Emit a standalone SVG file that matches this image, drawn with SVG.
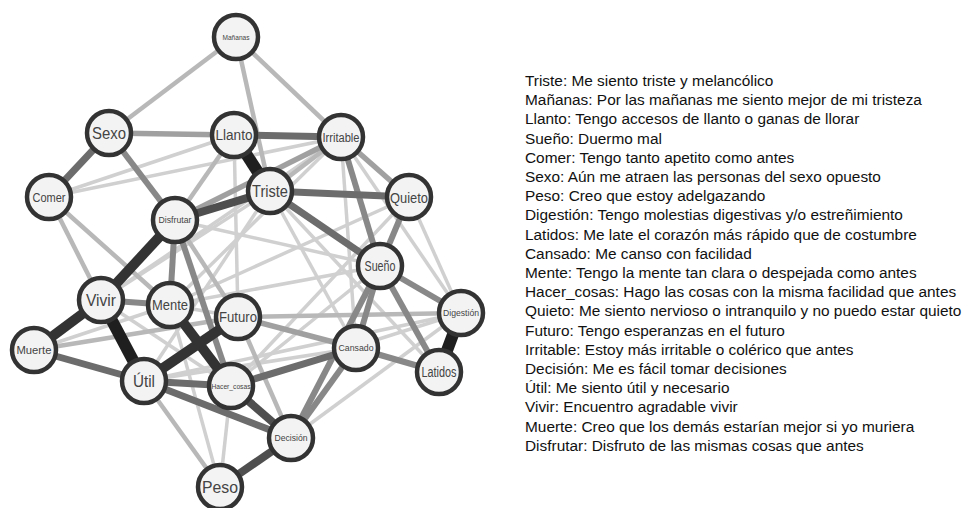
<svg xmlns="http://www.w3.org/2000/svg" width="964" height="508" viewBox="0 0 964 508">
<style>
.bg{fill:#ffffff}
line{stroke-linecap:butt}
.e1{stroke:#1f1f1f;stroke-width:12}
.e2{stroke:#333333;stroke-width:10}
.e3{stroke:#4f4f4f;stroke-width:8}
.e4{stroke:#6c6c6c;stroke-width:7}
.e5{stroke:#888888;stroke-width:6}
.e6{stroke:#a0a0a0;stroke-width:5.5}
.e7{stroke:#b8b8b8;stroke-width:4.5}
.e8{stroke:#d0d0d0;stroke-width:3.5}
.node circle{fill:#f3f3f3;stroke:#333333;stroke-width:4.5}
.node text{font-family:"Liberation Sans",Arial,sans-serif;fill:#444444;text-anchor:middle}
.legend text{font-family:"Liberation Sans",Arial,sans-serif;font-size:15.4px;fill:#111111}
</style>
<rect class="bg" x="0" y="0" width="964" height="508"/>
<g id="connectors">
<line class="e8" x1="341" y1="137" x2="101" y2="300"/>
<line class="e8" x1="341" y1="137" x2="170" y2="305"/>
<line class="e8" x1="341" y1="137" x2="356" y2="348"/>
<line class="e8" x1="341" y1="137" x2="461" y2="313"/>
<line class="e8" x1="409" y1="197" x2="461" y2="313"/>
<line class="e8" x1="409" y1="197" x2="170" y2="305"/>
<line class="e8" x1="409" y1="197" x2="231" y2="386"/>
<line class="e8" x1="49" y1="197" x2="341" y2="137"/>
<line class="e8" x1="49" y1="197" x2="234" y2="135"/>
<line class="e8" x1="234" y1="135" x2="238" y2="317"/>
<line class="e8" x1="175" y1="220" x2="380" y2="266"/>
<line class="e8" x1="270" y1="191" x2="101" y2="300"/>
<line class="e8" x1="270" y1="191" x2="144" y2="381"/>
<line class="e8" x1="270" y1="191" x2="356" y2="348"/>
<line class="e8" x1="270" y1="191" x2="439" y2="372"/>
<line class="e8" x1="34" y1="350" x2="170" y2="305"/>
<line class="e8" x1="101" y1="300" x2="231" y2="386"/>
<line class="e8" x1="170" y1="305" x2="220" y2="487"/>
<line class="e8" x1="231" y1="386" x2="220" y2="487"/>
<line class="e8" x1="291" y1="438" x2="461" y2="313"/>
<line class="e8" x1="144" y1="381" x2="356" y2="348"/>
<line class="e8" x1="144" y1="381" x2="461" y2="313"/>
<line class="e8" x1="231" y1="386" x2="461" y2="313"/>
<line class="e8" x1="380" y1="266" x2="170" y2="305"/>
<line class="e8" x1="380" y1="266" x2="231" y2="386"/>
<line class="e8" x1="170" y1="305" x2="238" y2="317"/>
<line class="e7" x1="236" y1="37" x2="109" y2="133"/>
<line class="e7" x1="236" y1="37" x2="341" y2="137"/>
<line class="e7" x1="236" y1="37" x2="270" y2="191"/>
<line class="e7" x1="238" y1="317" x2="461" y2="313"/>
<line class="e7" x1="144" y1="381" x2="220" y2="487"/>
<line class="e7" x1="238" y1="317" x2="291" y2="438"/>
<line class="e7" x1="49" y1="197" x2="101" y2="300"/>
<line class="e7" x1="49" y1="197" x2="170" y2="305"/>
<line class="e7" x1="234" y1="135" x2="175" y2="220"/>
<line class="e7" x1="175" y1="220" x2="238" y2="317"/>
<line class="e7" x1="341" y1="137" x2="270" y2="191"/>
<line class="e7" x1="34" y1="350" x2="238" y2="317"/>
<line class="e6" x1="109" y1="133" x2="234" y2="135"/>
<line class="e6" x1="341" y1="137" x2="409" y2="197"/>
<line class="e6" x1="238" y1="317" x2="356" y2="348"/>
<line class="e6" x1="341" y1="137" x2="175" y2="220"/>
<line class="e5" x1="101" y1="300" x2="170" y2="305"/>
<line class="e5" x1="109" y1="133" x2="175" y2="220"/>
<line class="e5" x1="409" y1="197" x2="380" y2="266"/>
<line class="e5" x1="341" y1="137" x2="380" y2="266"/>
<line class="e5" x1="380" y1="266" x2="461" y2="313"/>
<line class="e5" x1="380" y1="266" x2="439" y2="372"/>
<line class="e5" x1="380" y1="266" x2="356" y2="348"/>
<line class="e5" x1="356" y1="348" x2="439" y2="372"/>
<line class="e5" x1="291" y1="438" x2="356" y2="348"/>
<line class="e5" x1="291" y1="438" x2="380" y2="266"/>
<line class="e5" x1="175" y1="220" x2="170" y2="305"/>
<line class="e5" x1="175" y1="220" x2="231" y2="386"/>
<line class="e4" x1="234" y1="135" x2="341" y2="137"/>
<line class="e4" x1="270" y1="191" x2="380" y2="266"/>
<line class="e4" x1="270" y1="191" x2="409" y2="197"/>
<line class="e4" x1="231" y1="386" x2="356" y2="348"/>
<line class="e4" x1="34" y1="350" x2="144" y2="381"/>
<line class="e4" x1="144" y1="381" x2="231" y2="386"/>
<line class="e4" x1="144" y1="381" x2="291" y2="438"/>
<line class="e4" x1="109" y1="133" x2="49" y2="197"/>
<line class="e3" x1="270" y1="191" x2="175" y2="220"/>
<line class="e3" x1="291" y1="438" x2="220" y2="487"/>
<line class="e3" x1="231" y1="386" x2="291" y2="438"/>
<line class="e2" x1="101" y1="300" x2="34" y2="350"/>
<line class="e2" x1="144" y1="381" x2="238" y2="317"/>
<line class="e2" x1="170" y1="305" x2="231" y2="386"/>
<line class="e2" x1="101" y1="300" x2="175" y2="220"/>
<line class="e1" x1="234" y1="135" x2="270" y2="191"/>
<line class="e1" x1="101" y1="300" x2="144" y2="381"/>
<line class="e1" x1="461" y1="313" x2="439" y2="372"/>
</g>
<g id="node-Mananas" class="node"><circle cx="236" cy="37" r="22"/><text x="236" y="39.5" font-size="7" textLength="27" lengthAdjust="spacingAndGlyphs">Mañanas</text></g>
<g id="node-Sexo" class="node"><circle cx="109" cy="133" r="22"/><text x="109" y="139" font-size="17" textLength="34" lengthAdjust="spacingAndGlyphs">Sexo</text></g>
<g id="node-Llanto" class="node"><circle cx="234" cy="135" r="22"/><text x="234" y="140" font-size="14" textLength="37" lengthAdjust="spacingAndGlyphs">Llanto</text></g>
<g id="node-Irritable" class="node"><circle cx="341" cy="137" r="22"/><text x="341" y="141.5" font-size="12.5" textLength="37" lengthAdjust="spacingAndGlyphs">Irritable</text></g>
<g id="node-Comer" class="node"><circle cx="49" cy="197" r="22"/><text x="49" y="201.5" font-size="12.5" textLength="33" lengthAdjust="spacingAndGlyphs">Comer</text></g>
<g id="node-Disfrutar" class="node"><circle cx="175" cy="220" r="22"/><text x="175" y="223" font-size="9" textLength="33" lengthAdjust="spacingAndGlyphs">Disfrutar</text></g>
<g id="node-Triste" class="node"><circle cx="270" cy="191" r="22"/><text x="270" y="197" font-size="17" textLength="36" lengthAdjust="spacingAndGlyphs">Triste</text></g>
<g id="node-Quieto" class="node"><circle cx="409" cy="197" r="22"/><text x="409" y="202.5" font-size="15" textLength="38" lengthAdjust="spacingAndGlyphs">Quieto</text></g>
<g id="node-Sueno" class="node"><circle cx="380" cy="266" r="22"/><text x="380" y="271" font-size="14" textLength="31" lengthAdjust="spacingAndGlyphs">Sueño</text></g>
<g id="node-Vivir" class="node"><circle cx="101" cy="300" r="22"/><text x="101" y="305.5" font-size="16" textLength="30" lengthAdjust="spacingAndGlyphs">Vivir</text></g>
<g id="node-Mente" class="node"><circle cx="170" cy="305" r="22"/><text x="170" y="310" font-size="14" textLength="36" lengthAdjust="spacingAndGlyphs">Mente</text></g>
<g id="node-Futuro" class="node"><circle cx="238" cy="317" r="22"/><text x="238" y="322" font-size="14" textLength="38" lengthAdjust="spacingAndGlyphs">Futuro</text></g>
<g id="node-Digestion" class="node"><circle cx="461" cy="313" r="22"/><text x="461" y="316" font-size="9" textLength="36" lengthAdjust="spacingAndGlyphs">Digestión</text></g>
<g id="node-Muerte" class="node"><circle cx="34" cy="350" r="22"/><text x="34" y="354" font-size="11" textLength="35" lengthAdjust="spacingAndGlyphs">Muerte</text></g>
<g id="node-Cansado" class="node"><circle cx="356" cy="348" r="22"/><text x="356" y="351" font-size="8.7" textLength="35" lengthAdjust="spacingAndGlyphs">Cansado</text></g>
<g id="node-Latidos" class="node"><circle cx="439" cy="372" r="22"/><text x="439" y="377" font-size="14" textLength="35" lengthAdjust="spacingAndGlyphs">Latidos</text></g>
<g id="node-Util" class="node"><circle cx="144" cy="381" r="22"/><text x="144" y="386.5" font-size="16" textLength="22" lengthAdjust="spacingAndGlyphs">Útil</text></g>
<g id="node-Hacer_cosas" class="node"><circle cx="231" cy="386" r="22"/><text x="231" y="388.8" font-size="8" textLength="39" lengthAdjust="spacingAndGlyphs">Hacer_cosas</text></g>
<g id="node-Decision" class="node"><circle cx="291" cy="438" r="22"/><text x="291" y="441" font-size="9" textLength="33" lengthAdjust="spacingAndGlyphs">Decisión</text></g>
<g id="node-Peso" class="node"><circle cx="220" cy="487" r="22"/><text x="220" y="492.5" font-size="16" textLength="36" lengthAdjust="spacingAndGlyphs">Peso</text></g>
<g id="legend" class="legend">
<text x="525" y="86">Triste: Me siento triste y melancólico</text>
<text x="525" y="105.2">Mañanas: Por las mañanas me siento mejor de mi tristeza</text>
<text x="525" y="124.4">Llanto: Tengo accesos de llanto o ganas de llorar</text>
<text x="525" y="143.6">Sueño: Duermo mal</text>
<text x="525" y="162.8">Comer: Tengo tanto apetito como antes</text>
<text x="525" y="182">Sexo: Aún me atraen las personas del sexo opuesto</text>
<text x="525" y="201.2">Peso: Creo que estoy adelgazando</text>
<text x="525" y="220.4">Digestión: Tengo molestias digestivas y/o estreñimiento</text>
<text x="525" y="239.6">Latidos: Me late el corazón más rápido que de costumbre</text>
<text x="525" y="258.8">Cansado: Me canso con facilidad</text>
<text x="525" y="278">Mente: Tengo la mente tan clara o despejada como antes</text>
<text x="525" y="297.2">Hacer_cosas: Hago las cosas con la misma facilidad que antes</text>
<text x="525" y="316.4">Quieto: Me siento nervioso o intranquilo y no puedo estar quieto</text>
<text x="525" y="335.6">Futuro: Tengo esperanzas en el futuro</text>
<text x="525" y="354.8">Irritable: Estoy más irritable o colérico que antes</text>
<text x="525" y="374">Decisión: Me es fácil tomar decisiones</text>
<text x="525" y="393.2">Útil: Me siento útil y necesario</text>
<text x="525" y="412.4">Vivir: Encuentro agradable vivir</text>
<text x="525" y="431.6">Muerte: Creo que los demás estarían mejor si yo muriera</text>
<text x="525" y="450.8">Disfrutar: Disfruto de las mismas cosas que antes</text>
</g>
</svg>
